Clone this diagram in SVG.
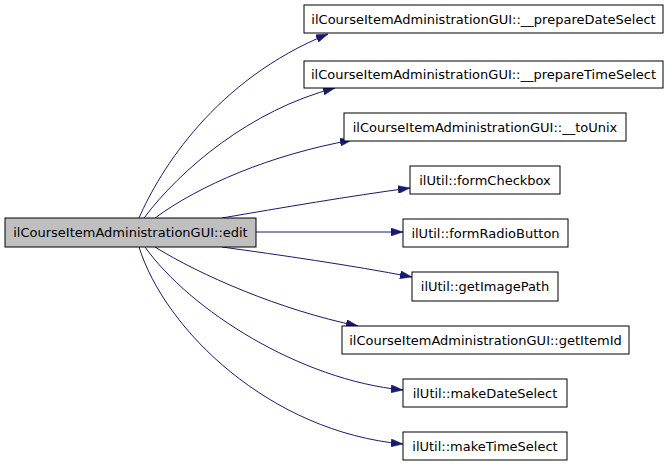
<svg xmlns="http://www.w3.org/2000/svg" width="672" height="467" viewBox="0 0 672 467">
<style>
.n rect{fill:#fff;stroke:#000;stroke-width:1}
.n text{font-family:"DejaVu Sans",sans-serif;font-size:13px;text-anchor:middle;fill:#000}
.e path{fill:none;stroke:#191970;stroke-width:1;marker-end:url(#a)}
</style>
<defs>
<marker id="a" viewBox="0 0 12 8" refX="12" refY="4" markerWidth="12" markerHeight="8" markerUnits="userSpaceOnUse" orient="auto">
<path d="M0,0 L12,4 L0,8 z" fill="#191970" stroke="#191970" stroke-width="0.5"/>
</marker>
</defs>
<rect width="672" height="467" fill="#fff"/>
<g class="e">
<path d="M139,218 C160,170 215,80 328,34"/>
<path d="M144,218 C180,170 250,110 335,88"/>
<path d="M155,218 C200,185 270,155 352,140"/>
<path d="M222,218 C280,208 350,196 410,188"/>
<path d="M256,232 L403,232"/>
<path d="M222,247 C280,255 350,265 412,277"/>
<path d="M155,247 C200,275 280,310 358,326"/>
<path d="M145,247 C190,310 300,380 403,390"/>
<path d="M139,247 C165,330 270,432 403,444"/>
</g>
<g id="root" class="n"><rect x="5" y="218" width="251" height="29" style="fill:#bfbfbf"/><text x="130.5" y="237">ilCourseItemAdministrationGUI::edit</text></g>
<g id="n1" class="n"><rect x="304" y="5" width="359" height="28"/><text x="483.5" y="23.5">ilCourseItemAdministrationGUI::__prepareDateSelect</text></g>
<g id="n2" class="n"><rect x="304" y="61" width="359" height="27"/><text x="483.5" y="79">ilCourseItemAdministrationGUI::__prepareTimeSelect</text></g>
<g id="n3" class="n"><rect x="344" y="113" width="282" height="28"/><text x="485" y="131.5">ilCourseItemAdministrationGUI::__toUnix</text></g>
<g id="n4" class="n"><rect x="410" y="166" width="150" height="28"/><text x="485" y="184.5">ilUtil::formCheckbox</text></g>
<g id="n5" class="n"><rect x="403" y="219" width="165" height="28"/><text x="485.5" y="237.5">ilUtil::formRadioButton</text></g>
<g id="n6" class="n"><rect x="412" y="272" width="146" height="29"/><text x="485" y="290.5">ilUtil::getImagePath</text></g>
<g id="n7" class="n"><rect x="342" y="326" width="287" height="28"/><text x="485.5" y="344.5">ilCourseItemAdministrationGUI::getItemId</text></g>
<g id="n8" class="n"><rect x="403" y="379" width="164" height="28"/><text x="485" y="397.5">ilUtil::makeDateSelect</text></g>
<g id="n9" class="n"><rect x="403" y="432" width="164" height="28"/><text x="485" y="450.5">ilUtil::makeTimeSelect</text></g>
</svg>
